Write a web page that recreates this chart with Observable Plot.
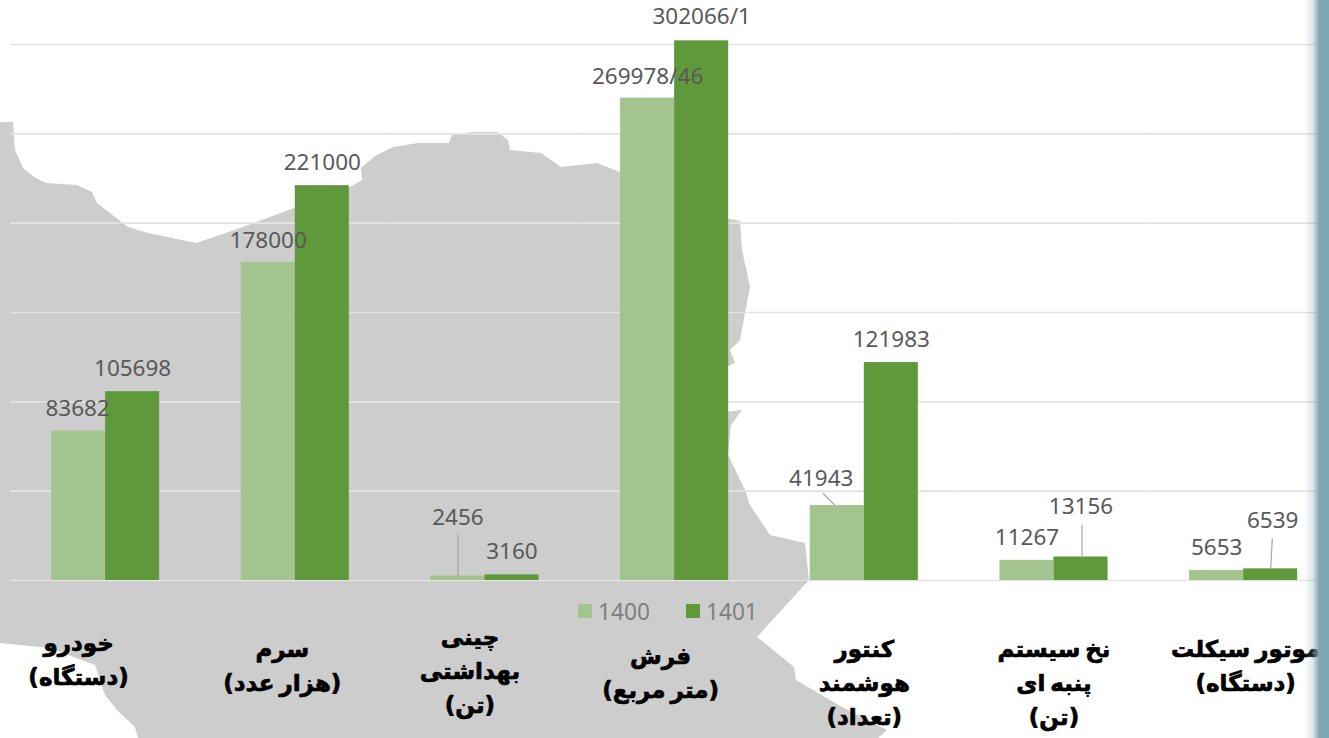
<!DOCTYPE html>
<html lang="fa">
<head>
<meta charset="utf-8">
<script src="https://cdn.jsdelivr.net/npm/d3@7"></script>
<script src="https://cdn.jsdelivr.net/npm/@observablehq/plot@0.6"></script>
<style>
  html, body { margin: 0; padding: 0; background: #fff; overflow: hidden; }
  #stage { position: relative; width: 1329px; height: 738px; overflow: hidden; }
  #map { position: absolute; left: 0; top: 0; filter: blur(0.7px); }
  #chart { position: absolute; left: 0; top: 0; word-spacing: -3px; }
  #chart svg { background: transparent; }
  #edge { position: absolute; top: 0; right: 0; width: 30px; height: 738px; pointer-events: none;
          background: linear-gradient(to right, rgba(128,166,178,0) 15%, rgba(128,166,178,.25) 45%, #80a6b2 68%, #80a6b2 100%); }
  #legend { position: absolute; left: 578px; top: 598px; height: 26px; display: flex; align-items: center;
            font: 22.7px "Noto Sans", sans-serif; color: #7f7f7f; }
  #legend i { display: inline-block; width: 14px; height: 14px; margin-right: 6px; }
  #legend span { display: inline-flex; align-items: center; margin-right: 36px; }
</style>
</head>
<body>
<div id="stage">
  <svg id="map" width="1329" height="738" aria-hidden="true">
    <path fill="#cdcdcd" d="M0,122 L13,122 15,150 23,168 34,177 46,183 77,185 92,192 97,203 128,227 148,233 196,243 214,237 240,228 350,187 362,180 361,168 375,156 393,147 418,143 449,143 452,135 472,132 497,132 508,140 510,150 541,153 561,167 597,163 620,172 700,215 730,219 740,221 742,250 747,273 750,287 745,313 740,340 730,350 735,363 726,367 726,412 742,410 731,425 728,455 745,490 750,505 770,535 805,543 809,580 757,637 794,667 796,680 842,707 887,730 878,738 138,738 135,727 117,710 105,695 95,665 50,648 0,643 Z"/>
  </svg>
  <div id="chart"></div>
  <div id="legend">
    <span><i style="background:#a3c48f"></i>1400</span>
    <span><i style="background:#60993c"></i>1401</span>
  </div>
  <div id="edge"></div>
</div>
<script>
// Data
const categories = ["خودرو\n(دستگاه)", "سرم\n(هزار عدد)", "چینی\nبهداشتی\n(تن)", "فرش\n(متر مربع)", "کنتور\nهوشمند\n(تعداد)", "نخ سیستم\nپنبه ای\n(تن)", "موتور سیکلت\n(دستگاه)"];
const years = ["1400", "1401"];
const values1400 = [83682, 178000, 2456, 269978.46, 41943, 11267, 5653];
const values1401 = [105698, 221000, 3160, 302066.1, 121983, 13156, 6539];
const gridTicks = [0, 50000, 100000, 150000, 200000, 250000, 300000];

// Layout of the labels (pixels), kept apart from the values
const labelDx1400 = [-1, 0, 0, 0, -16, 0, 0];
const labelDx1401 = [0, 0, 0, 0, 0, 0, 2];
const labelDy1400 = [-22, -22, -58, -21, -27, -23, -23];
const labelDy1401 = [-23, -23, -23, -24, -23, -50, -48];
const categoryDx = [-27, -13, -15, -14, 0, 0, 2];
const categoryDy = [46, 52, 40, 59, 52, 52, 52];

const rows = [];
categories.forEach((c, i) => {
  rows.push({cat: c, year: years[0], value: values1400[i], dx: labelDx1400[i], dy: labelDy1400[i]});
  rows.push({cat: c, year: years[1], value: values1401[i], dx: labelDx1401[i], dy: labelDy1401[i]});
});
const find = (i, y) => rows.find(r => r.cat === categories[i] && r.year === y);
// Leader lines: [row, length px, rotation deg, dx px]
const leaders = [
  [find(2, "1400"), 41, 0, 0],
  [find(4, "1400"), 17, -45, -2],
  [find(5, "1401"), 32, 0, 1],
  [find(6, "1401"), 30, 3, 0]
];
const lineShape = {draw(ctx, l) { ctx.moveTo(0, 0); ctx.lineTo(0, -l); }};
const fmt = v => String(v).replace(".", "/");

const plot = Plot.plot({
  width: 1329,
  height: 738,
  margin: 0,
  style: {background: "transparent", overflow: "visible"},
  fx: {domain: categories, range: [10.25, 1338], padding: 0, axis: null, round: false},
  x: {domain: years, paddingInner: 0, paddingOuter: 0.7546, axis: null, round: false},
  y: {domain: [0, 300000], range: [580, 44], axis: null},
  color: {domain: years, range: ["#a3c48f", "#60993c"]},
  marks: [
    Plot.ruleY(gridTicks, {stroke: "#e3e3e3", strokeWidth: 1.6}),
    Plot.barY(rows, {fx: "cat", x: "year", y: "value", fill: "year"}),
    ...leaders.map(([r, len, rot, dx]) => Plot.vector([r], {
      fx: "cat", x: "year", y: "value", length: len, rotate: rot, dx, anchor: "start",
      shape: lineShape, stroke: "#a6a6a6", strokeWidth: 1.2
    })),
    ...rows.map(r => Plot.text([r], {
      fx: "cat", x: "year", y: "value", text: d => fmt(d.value), dx: r.dx, dy: r.dy,
      fontSize: 22.5, fill: "#595959", fontFamily: "'Noto Sans', sans-serif"
    })),
    ...categories.map((c, i) => Plot.text([c], {
      fx: d => d, y: () => 0, text: d => d, dx: categoryDx[i], dy: categoryDy[i],
      lineAnchor: "top", lineHeight: 1.48, fontSize: 23, fontWeight: "bold",
      fill: "#000", stroke: "#000", strokeWidth: 0.7, fontFamily: "'DejaVu Sans', sans-serif"
    }))
  ]
});
document.getElementById("chart").appendChild(plot);
</script>
</body>
</html>
